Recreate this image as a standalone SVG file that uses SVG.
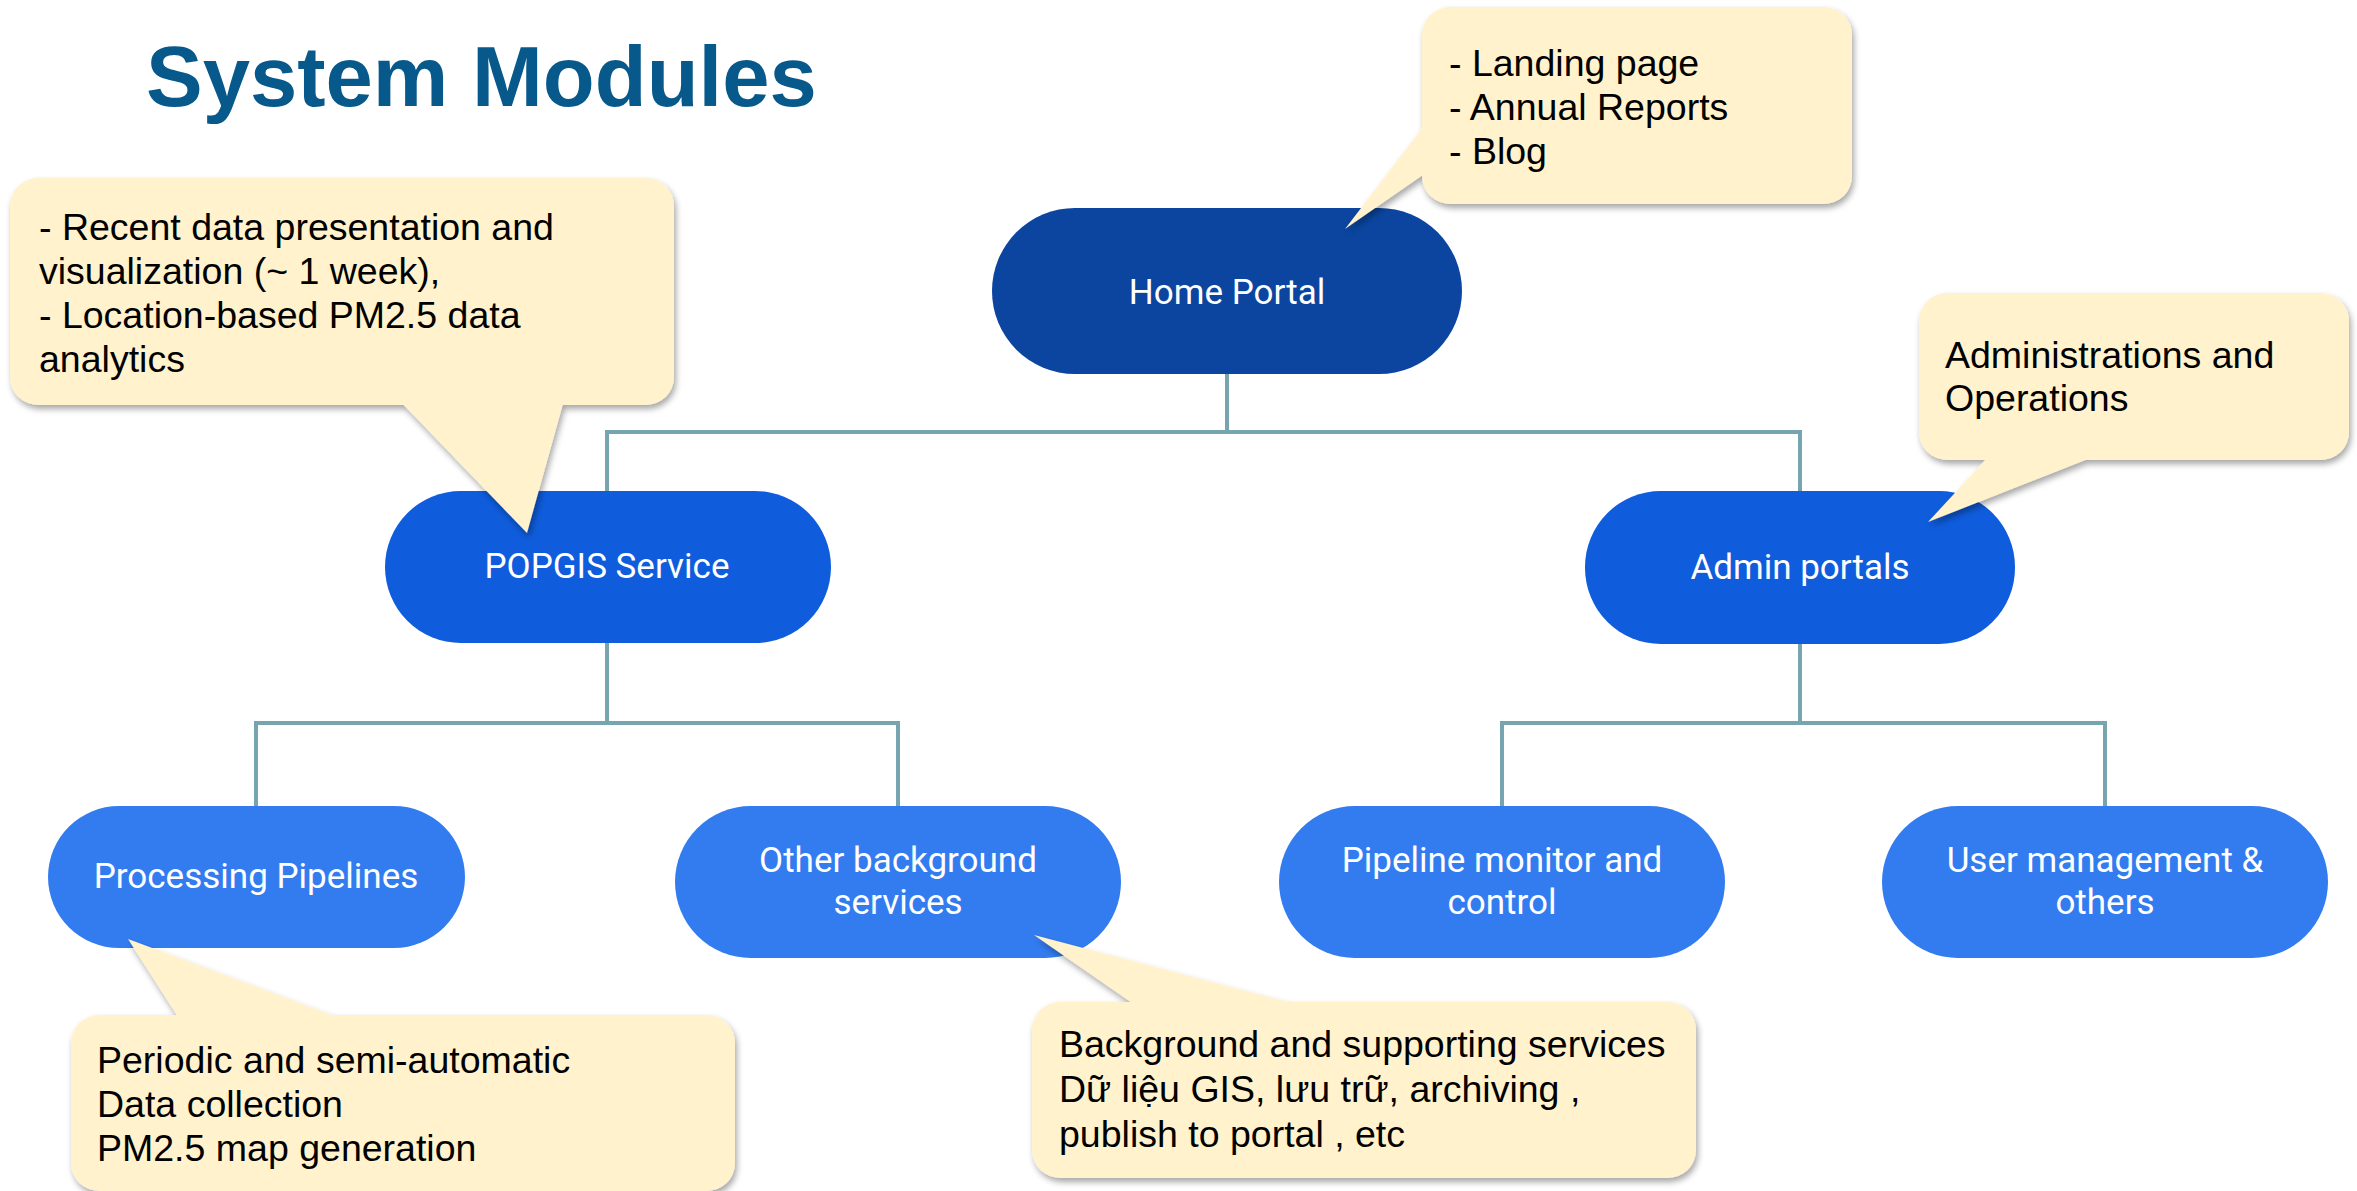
<svg xmlns="http://www.w3.org/2000/svg" width="2357" height="1191" viewBox="0 0 2357 1191">
<defs>
<style>
.title{font-family:"Liberation Sans",Arial,sans-serif;font-weight:bold;font-size:85px;fill:#06598a}
.node text{font-family:Roboto,"Liberation Sans",sans-serif;font-size:35px;fill:#ffffff;text-anchor:middle}
.call rect,.call polygon{fill:#fff2cc}
.call text{font-family:"Liberation Sans",Arial,sans-serif;font-size:37.5px;fill:#000000}
.conn{fill:none;stroke:#76a5af;stroke-width:4}
.top{fill:#0b45a0}
.mid{fill:#0f5cdc}
.low{fill:#337cf0}
</style>
<filter id="sh" x="-10%" y="-10%" width="120%" height="130%">
<feDropShadow dx="2" dy="4" stdDeviation="3" flood-color="#000" flood-opacity="0.35"/>
</filter>
</defs>
<rect width="2357" height="1191" fill="#ffffff"/>
<text class="title" x="146" y="106">System Modules</text>
<g id="connectors">
<path class="conn" d="M1227 374 V432 M607 491 V432 H1800 V491"/>
<path class="conn" d="M607 642 V723 M256 806 V723 H898 V806"/>
<path class="conn" d="M1800 644 V723 M1502 806 V723 H2105 V806"/>
</g>
<g id="home" class="node"><rect class="top" x="992" y="208" width="470" height="166" rx="83"/><text x="1227" y="304">Home Portal</text></g>
<g id="popgis" class="node"><rect class="mid" x="385" y="491" width="446" height="152" rx="76"/><text x="607" y="578">POPGIS Service</text></g>
<g id="admin" class="node"><rect class="mid" x="1585" y="491" width="430" height="153" rx="76"/><text x="1800" y="579">Admin portals</text></g>
<g id="pipelines" class="node"><rect class="low" x="48" y="806" width="417" height="142" rx="71"/><text x="256" y="888">Processing Pipelines</text></g>
<g id="other" class="node"><rect class="low" x="675" y="806" width="446" height="152" rx="76"/><text x="898" y="872">Other background</text><text x="898" y="914">services</text></g>
<g id="monitor" class="node"><rect class="low" x="1279" y="806" width="446" height="152" rx="76"/><text x="1502" y="872">Pipeline monitor and</text><text x="1502" y="914">control</text></g>
<g id="users" class="node"><rect class="low" x="1882" y="806" width="446" height="152" rx="76"/><text x="2105" y="872">User management &amp;</text><text x="2105" y="914">others</text></g>
<g id="note-popgis" class="call">
<g filter="url(#sh)"><rect x="10" y="178" width="664" height="227" rx="28"/><polygon points="399,400 564,400 527,533"/></g>
<text x="39" y="240">- Recent data presentation and</text>
<text x="39" y="284">visualization (~ 1 week),</text>
<text x="39" y="328">- Location-based PM2.5 data</text>
<text x="39" y="372">analytics</text>
</g>
<g id="note-home" class="call">
<g filter="url(#sh)"><rect x="1422" y="7" width="430" height="197" rx="28"/><polygon points="1427,122 1427,172 1345,229"/></g>
<text x="1449" y="76">- Landing page</text>
<text x="1449" y="120">- Annual Reports</text>
<text x="1449" y="164">- Blog</text>
</g>
<g id="note-admin" class="call">
<g filter="url(#sh)"><rect x="1919" y="293" width="430" height="167" rx="28"/><polygon points="1990,455 2098,455 1928,522"/></g>
<text x="1945" y="368">Administrations and</text>
<text x="1945" y="411">Operations</text>
</g>
<g id="note-pipelines" class="call">
<g filter="url(#sh)"><rect x="71" y="1015" width="664" height="176" rx="28"/><polygon points="180,1020 345,1020 128,939"/></g>
<text x="97" y="1073">Periodic and semi-automatic</text>
<text x="97" y="1117">Data collection</text>
<text x="97" y="1161">PM2.5 map generation</text>
</g>
<g id="note-other" class="call">
<g filter="url(#sh)"><rect x="1032" y="1002" width="664" height="176" rx="28"/><polygon points="1138,1007 1307,1007 1034,935"/></g>
<text x="1059" y="1057">Background and supporting services</text>
<text x="1059" y="1102">Dữ liệu GIS, lưu trữ, archiving ,</text>
<text x="1059" y="1147">publish to portal , etc</text>
</g>
</svg>
